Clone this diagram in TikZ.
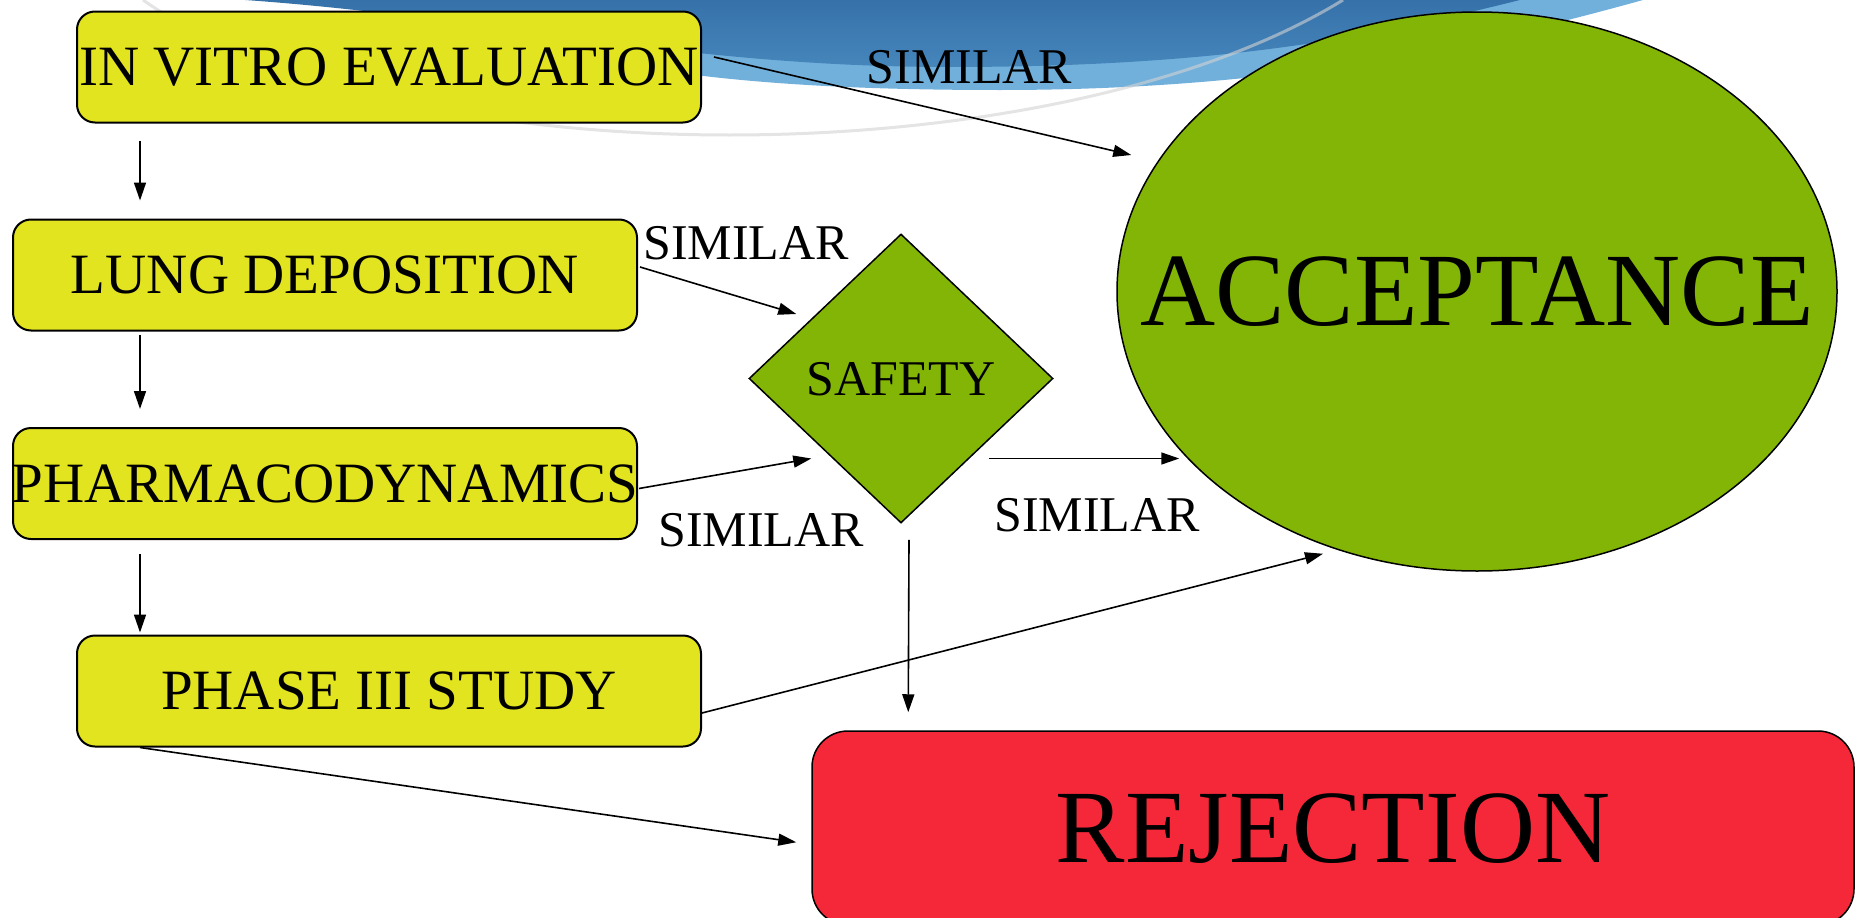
\documentclass[tikz,border=0pt]{standalone}
\usepackage{fontspec}
\setmainfont{Liberation Serif}
\usetikzlibrary{shapes.geometric,arrows.meta}

\definecolor{boxyellow}{HTML}{E2E41F}
\definecolor{okgreen}{HTML}{82B506}
\definecolor{rejred}{HTML}{F5283A}
\definecolor{swooptop}{HTML}{3570A8}
\definecolor{swoopdark}{HTML}{4586BB}
\definecolor{swooplight}{HTML}{72B0DC}

\tikzstyle{stage} = [draw, line width=2pt, fill=boxyellow, rounded corners=18pt, minimum width=624pt, minimum height=111pt, inner sep=0pt, text depth=0pt, font=\fontsize{57}{60}\selectfont]
\tikzstyle{decision} = [draw, line width=1.5pt, fill=okgreen, diamond, minimum width=304pt, minimum height=289pt, inner sep=0pt, text depth=0pt, font=\fontsize{50}{54}\selectfont]
\tikzstyle{verdict} = [draw, line width=1.5pt, inner sep=0pt, text depth=0pt, font=\fontsize{104}{110}\selectfont]
\tikzstyle{similar} = [inner sep=0pt, text depth=0pt, font=\fontsize{50}{54}\selectfont]
\tikzstyle{arr} = [line width=1.6pt, -{Triangle[length=18pt,width=12pt]}]

\begin{document}
\begin{tikzpicture}[x=1pt,y=-1pt]
	\useasboundingbox (0,0) rectangle (1864,918);
	
	% background swoosh
	\fill[swooplight] (400,-5) .. controls (550,62) and (700,90) .. (1000,90) .. controls (1300,90) and (1500,40) .. (1661,-5) -- cycle;
	\shade[top color=swooptop, bottom color=swoopdark] (150,-5) .. controls (450,5) and (650,67) .. (950,67) .. controls (1250,67) and (1400,30) .. (1540,-5) -- cycle;
	\draw[gray!35, opacity=0.6, line width=3pt] (143,0) .. controls (400,180) and (1050,180) .. (1343,0);
	
	\node[stage] (invitro) at (389,67) {IN VITRO EVALUATION};
	\node[stage] (lung) at (325,275) {LUNG DEPOSITION};
	\node[stage] (pharm) at (325,483.5) {\makebox[0pt]{PHARMACODYNAMICS}};
	\node[stage] (phase) at (389,691) {PHASE III STUDY};
	
	\node[decision] (safety) at (901,378.5) {SAFETY};
	\node[verdict, ellipse, fill=okgreen, minimum width=720pt, minimum height=559pt] (accept) at (1477,291.5) {\makebox[0pt]{ACCEPTANCE}};
	\node[verdict, fill=rejred, rounded corners=36pt, minimum width=1042pt, minimum height=194pt] (reject) at (1333,828) {REJECTION};
	
	\node[similar] (sim1) at (969.5,67) {SIMILAR};
	\node[similar] (sim2) at (746,243) {SIMILAR};
	\node[similar] (sim3) at (761,530) {SIMILAR};
	\node[similar] (sim4) at (1097,515) {SIMILAR};
	
	\draw[arr] ([shift={(64,17)}]invitro.south west) -- ([shift={(128,-18)}]lung.north west);
	\draw[arr] ([shift={(128,3)}]lung.south west) -- ([shift={(128,-18)}]pharm.north west);
	\draw[arr] ([shift={(128,14)}]pharm.south west) -- ([shift={(64,-2)}]phase.north west);
	
	\draw[arr] ([shift={(12,-10)}]invitro.east) -- ([shift={(15,-136.5)}]accept.west);
	\draw[arr] ([shift={(2,-8)}]lung.east) -- ([shift={(48,-64.5)}]safety.west);
	\draw[arr] ([shift={(1,5)}]pharm.east) -- ([shift={(63,80)}]safety.west);
	\draw[arr] ([shift={(-65,80)}]safety.east) -- ([shift={(63,167)}]accept.west);
	\draw[arr] ([shift={(8,16)}]safety.south) -- ([shift={(97,-18)}]reject.north west);
	\draw[arr] ([shift={(0,22)}]phase.east) -- ([shift={(-154,-18)}]accept.south);
	\draw[arr] ([shift={(64,0)}]phase.south west) -- ([shift={(-15,112)}]reject.north west);
	\end{tikzpicture}
\end{document}
